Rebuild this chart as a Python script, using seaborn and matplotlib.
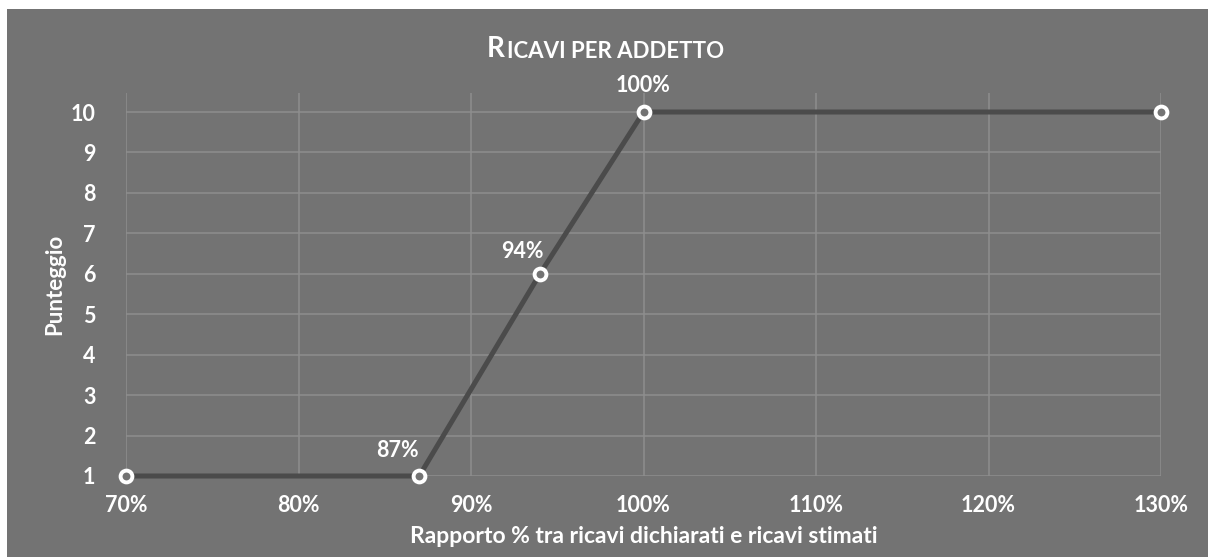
import numpy as np
import pandas as pd
import seaborn as sns
import matplotlib.pyplot as plt
from matplotlib.patches import Rectangle
from matplotlib.ticker import FuncFormatter

# valori
rapporto = [70, 87, 94, 100, 130]
punteggio = [1, 1, 6, 10, 10]
etichette = ["", "87%", "94%", "100%", ""]
x_ticks = [70, 80, 90, 100, 110, 120, 130]
y_ticks = list(range(1, 11))

BG = "#737373"
GRID = "#8e8e8e"
LINE = "#4b4b4b"

sns.set_theme(style="whitegrid")
plt.rcParams["font.family"] = ["Lato", "DejaVu Sans"]
plt.rcParams["font.weight"] = "bold"

df = pd.DataFrame({"rapporto": rapporto, "punteggio": punteggio})

fig = plt.figure(figsize=(12.08, 5.57), dpi=100, facecolor="white")
fig.patches.append(Rectangle((7 / 1208, 0), 1 - 7 / 1208, 1 - 9 / 557,
                             transform=fig.transFigure, facecolor=BG,
                             edgecolor="none", zorder=-10))
ax = fig.add_axes([126 / 1208, 81 / 557, (1161 - 126) / 1208, (464 - 81) / 557])
ax.set_facecolor("none")

sns.lineplot(data=df, x="rapporto", y="punteggio", ax=ax, color=LINE,
             linewidth=3.6, marker="o", markersize=8.5, markeredgewidth=2.8,
             markeredgecolor="white", markerfacecolor=BG, zorder=3, clip_on=False)

offsets = {"87%": (-22, 15), "94%": (-18, 12), "100%": (0, 16)}
for xv, yv, lab in zip(rapporto, punteggio, etichette):
    if lab:
        dx, dy = offsets[lab]
        ax.annotate(lab, (xv, yv), xytext=(dx, dy), textcoords="offset pixels",
                    ha="center", va="bottom", color="white", fontsize=15.5,
                    fontweight="bold")

ax.set_xlim(70, 130)
ax.set_ylim(1, 10.47)
ax.set_xticks(x_ticks)
ax.set_yticks(y_ticks)
ax.xaxis.set_major_formatter(FuncFormatter(lambda v, p: f"{v:.0f}%"))
ax.grid(True, color=GRID, linewidth=1.1)
for s in ax.spines.values():
    s.set_visible(False)
ax.tick_params(colors="white", labelsize=15.5, length=0)
ax.tick_params(axis="x", pad=14)
ax.tick_params(axis="y", pad=22)
for lbl in ax.get_xticklabels() + ax.get_yticklabels():
    lbl.set_fontweight("bold")

ax.set_xlabel("Rapporto % tra ricavi dichiarati e ricavi stimati", color="white",
              fontsize=16.5, fontweight="bold", labelpad=7)
ax.set_ylabel("Punteggio", color="white", fontsize=16, fontweight="bold",
              labelpad=4)

t1 = fig.text(487 / 1208, 1 - 57 / 557, "R", color="white", fontsize=20,
              fontweight="bold", ha="left", va="baseline")
ax.annotate("ICAVI PER ADDETTO", xy=(1, 0), xycoords=t1, xytext=(2, 0),
            textcoords="offset pixels", color="white", fontsize=16,
            fontweight="bold", ha="left", va="bottom", annotation_clip=False)

fig.savefig("out.png", dpi=100, facecolor="white")
